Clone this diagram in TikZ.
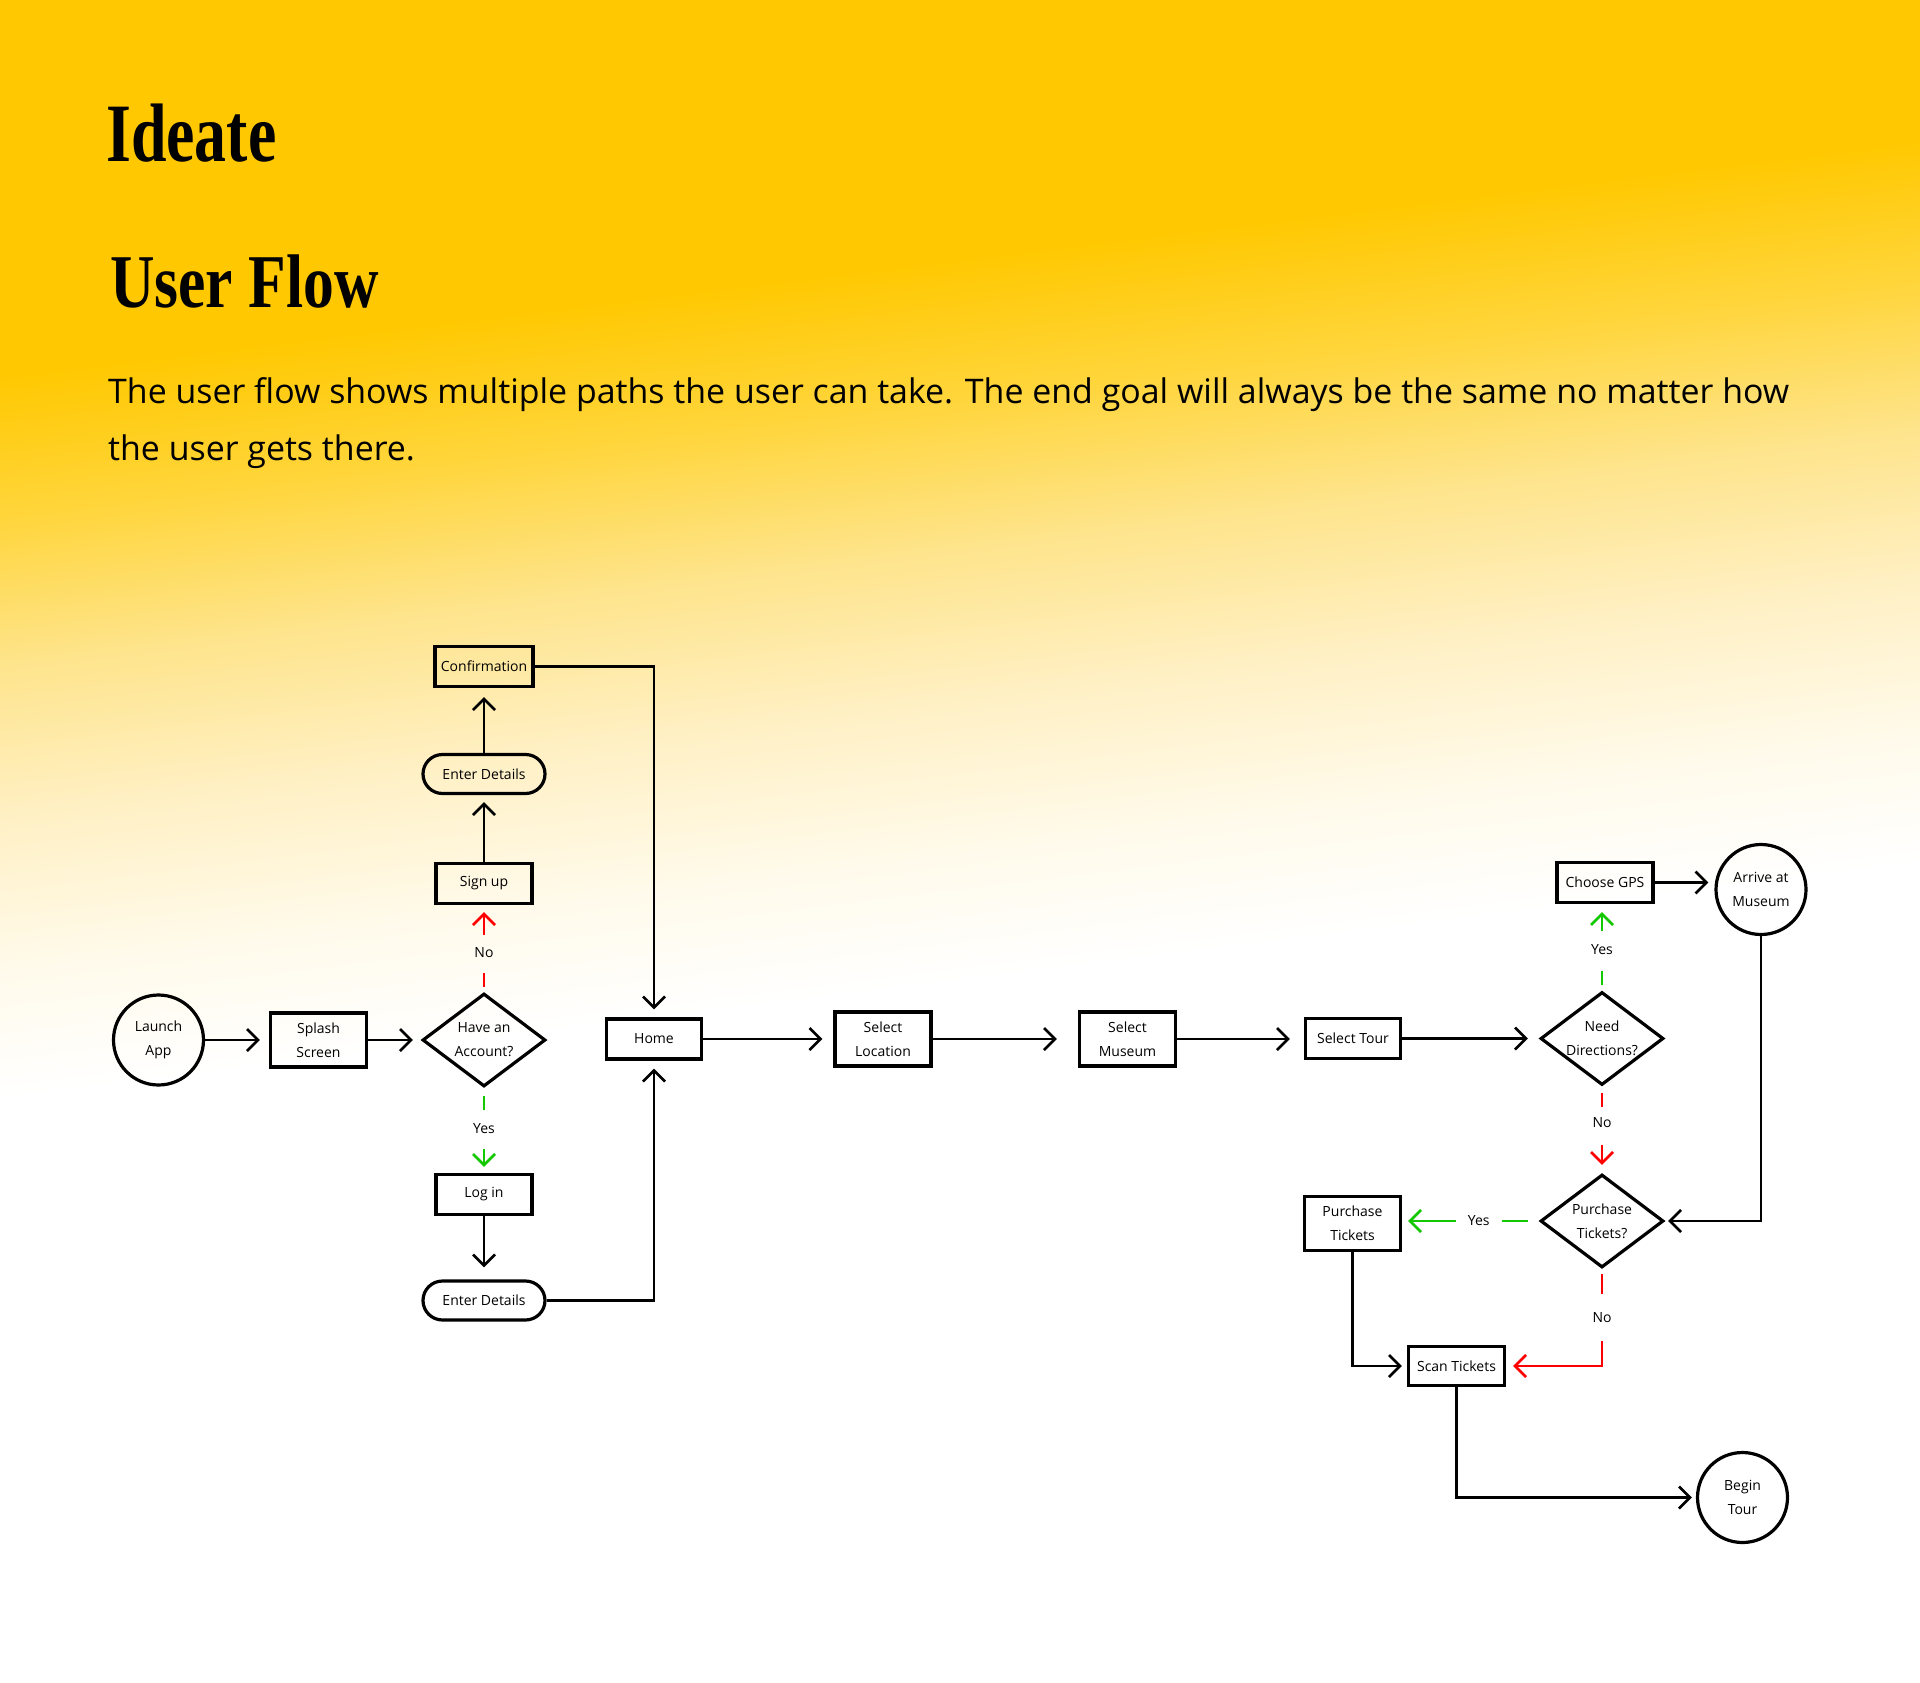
\documentclass[tikz,border=0pt]{standalone}
\usepackage{fontspec}
\usepackage{graphicx}
\setmainfont{Open Sans}
\newfontfamily\titlefont{Liberation Serif}
\usetikzlibrary{arrows.meta,shapes.geometric,calc}
\definecolor{bgY}{RGB}{255,200,0}
\definecolor{bgA}{RGB}{255,213,58}
\definecolor{bgB}{RGB}{254,228,140}
\definecolor{bgC}{RGB}{255,240,196}
\definecolor{bgD}{RGB}{255,250,234}
\definecolor{noRed}{RGB}{255,0,0}
\definecolor{yesGreen}{RGB}{20,200,0}
\pgfdeclareverticalshading{bgshade}{2600pt}{color(0pt)=(white); color(1061pt)=(white); color(1191pt)=(bgD); color(1341pt)=(bgC); color(1491pt)=(bgB); color(1641pt)=(bgA); color(1781pt)=(bgY); color(2400pt)=(bgY)}
\newcommand\nodefs{\fontsize{14}{24}\selectfont}
\begin{document}
\begin{tikzpicture}[x=1pt,y=-1pt,
  shp/.style={draw=black, line width=3.2pt, inner sep=0pt, align=center, font=\nodefs},
  box/.style={shp, rectangle, minimum width=96pt, minimum height=40pt},
  tallbox/.style={box, minimum height=54pt},
  pill/.style={shp, rectangle, rounded corners=19.5pt, minimum width=122pt, minimum height=39pt},
  dia/.style={shp, diamond, minimum width=123pt, minimum height=93pt},
  dtext/.style={font=\nodefs, align=center, inner sep=0pt, text=black},
  circ/.style={shp, circle, minimum size=90pt},
  conn/.style={line width=2.7pt, draw=black},
  arr/.style={conn, -{Straight Barb[length=11pt,width=22pt]}},
  lbl/.style={font=\nodefs, text=black, inner sep=0pt},
]
\useasboundingbox (0,0) rectangle (1920,1683);
\begin{scope}
  \clip (0,0) rectangle (1920,1683);
  \fill[white] (0,0) rectangle (1920,1683);
  \node[inner sep=0pt, rotate=7] (bg) at (960,841) {\pgfuseshading{bgshade}};
\end{scope}

% titles
\node[anchor=base west, inner sep=0pt] (title1) at (106,161) {\scalebox{0.77}[1]{\titlefont\bfseries\fontsize{83}{90}\selectfont Ideate}};
\node[anchor=base west, inner sep=0pt] (title2) at (110,307) {\scalebox{0.81}[1]{\titlefont\bfseries\fontsize{76}{90}\selectfont User Flow}};
\node[anchor=base west, inner sep=0pt, font=\fontsize{33.9}{57}\selectfont] (para1) at (108,403) {The user flow shows multiple paths the user can take. The end goal will always be the same no matter how};
\node[anchor=base west, inner sep=0pt, font=\fontsize{33.9}{57}\selectfont] (para2) at (108,460) {the user gets there.};

% nodes
\node[circ] (launch) at (158.5,1040) {Launch\\App};
\node[tallbox] (splash) at (318.5,1040) {Splash\\Screen};
\node[dia, label={[dtext]center:Have an\\Account?}] (acc) at (484,1040) {};
\node[box] (signup) at (484,883.5) {Sign up};
\node[pill] (enter1) at (484,774) {Enter Details};
\node[box, minimum width=98pt] (confirm) at (484,666.5) {Confirmation};
\node[box] (login) at (484,1194.5) {Log in};
\node[pill] (enter2) at (484,1300.5) {Enter Details};
\node[box, minimum width=95pt] (home) at (654,1039) {Home};
\node[tallbox] (loc) at (883,1039) {Select\\Location};
\node[tallbox] (mus) at (1127.5,1039) {Select\\Museum};
\node[box, minimum width=95pt] (tour) at (1353,1038.5) {Select Tour};
\node[dia, label={[dtext]center:Need\\Directions?}] (nd) at (1602,1038.5) {};
\node[box] (gps) at (1605,882.5) {Choose GPS};
\node[circ] (arrive) at (1761,889.5) {Arrive at\\Museum};
\node[dia, label={[dtext]center:Purchase\\Tickets?}] (ptq) at (1602,1221) {};
\node[tallbox] (pt) at (1352.5,1223.5) {Purchase\\Tickets};
\node[box, minimum height=39pt] (scan) at (1456.5,1366) {Scan Tickets};
\node[circ] (begin) at (1742.5,1497.5) {Begin\\Tour};

% black connectors
\draw[arr, shorten >=9pt] (launch.east) -- (splash.west);
\draw[arr, shorten >=8pt] (splash.east) -- (acc.west);
\draw[arr, shorten >=7pt] (signup.north) -- (enter1.south);
\draw[arr, shorten >=9pt] (enter1.north) -- (confirm.south);
\draw[arr, shorten >=8pt] (confirm.east) -| (home.north);
\draw[arr, shorten >=12pt] (login.south) -- (enter2.north);
\draw[arr, shorten >=8pt] (enter2.east) -| (home.south);
\draw[arr, shorten >=11pt] (home.east) -- (loc.west);
\draw[arr, shorten >=21pt] (loc.east) -- (mus.west);
\draw[arr, shorten >=14pt] (mus.east) -- (mus.east -| tour.west);
\draw[arr, shorten >=11pt] (tour.east) -- (nd.west);
\draw[arr, shorten >=6pt] (gps.east) -- (gps.east -| arrive.west);
\draw[arr, shorten >=3pt] (arrive.south) |- (ptq.east);
\draw[arr, shorten >=5pt] (pt.south) |- (scan.west);
\draw[arr, shorten >=4pt] (scan.south) |- (begin.west);

% decision branches
\draw[arr, draw=noRed, shorten <=5pt, shorten >=7pt, dash pattern=on 14pt off 38pt on 200pt] (acc.north) -- node[lbl, pos=0.45]{No} (signup.south);
\draw[arr, draw=yesGreen, shorten <=8pt, shorten >=6pt, dash pattern=on 14pt off 39pt on 200pt] (acc.south) -- node[lbl, pos=0.48]{Yes} (login.north);
\draw[arr, draw=yesGreen, shorten <=5pt, shorten >=8pt, dash pattern=on 14pt off 40pt on 200pt] (nd.north) -- node[lbl, pos=0.47]{Yes} (nd.north |- gps.south);
\draw[arr, draw=noRed, shorten <=6pt, shorten >=8pt, dash pattern=on 14pt off 38pt on 200pt] (nd.south) -- node[lbl, pos=0.42]{No} (ptq.north);
\draw[arr, draw=yesGreen, shorten <=11pt, shorten >=6pt, dash pattern=on 26pt off 46pt on 300pt] (ptq.west) -- node[lbl, pos=0.44]{Yes} (ptq.west -| pt.east);
\draw[arr, draw=noRed, shorten <=5pt, shorten >=7pt, dash pattern=on 20pt off 47pt on 400pt] (ptq.south) |- node[lbl, pos=0.25]{No} (scan.east);
\end{tikzpicture}
\end{document}
